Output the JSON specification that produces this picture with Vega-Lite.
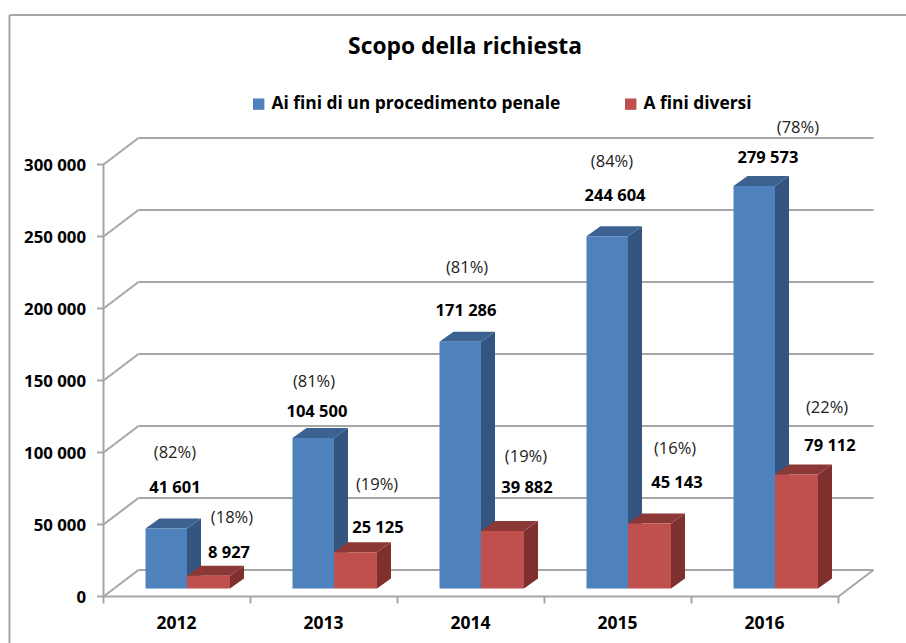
{
"$schema":"https://vega.github.io/schema/vega-lite/v6.json",
"width":906,"height":643,"padding":0,"autosize":{"type":"none"},
"background":"white",
"view":{"stroke":null},
"resolve":{"axis":{"x":"independent","y":"independent"}},
"title":{"text":"Scopo della richiesta","anchor":"middle","frame":"group","offset":-59,"dx":12,"font":"Open Sans","fontSize":22.8,"fontWeight":"bold","color":"#000000"},
"datasets":{
"bars":[
{"year":2012,"series":"Ai fini di un procedimento penale","value":41601,"share":82},
{"year":2013,"series":"Ai fini di un procedimento penale","value":104500,"share":81},
{"year":2014,"series":"Ai fini di un procedimento penale","value":171286,"share":81},
{"year":2015,"series":"Ai fini di un procedimento penale","value":244604,"share":84},
{"year":2016,"series":"Ai fini di un procedimento penale","value":279573,"share":78},
{"year":2012,"series":"A fini diversi","value":8927,"share":18},
{"year":2013,"series":"A fini diversi","value":25125,"share":19},
{"year":2014,"series":"A fini diversi","value":39882,"share":19},
{"year":2015,"series":"A fini diversi","value":45143,"share":16},
{"year":2016,"series":"A fini diversi","value":79112,"share":22}
],
"ticks":[{"v":0},{"v":50000},{"v":100000},{"v":150000},{"v":200000},{"v":250000},{"v":300000}],
"edges":[{"edge":2011.5},{"edge":2012.5},{"edge":2013.5},{"edge":2014.5},{"edge":2015.5},{"edge":2016.5}]
},
"layer":[
{"data":{"values":[{"f":403819}]},
 "mark":{"type":"rule","color":"#a6a6a6","strokeWidth":2},
 "encoding":{"x":{"datum":2010.8605,"type":"quantitative","scale":{"domain":[2010.79592,2016.95918],"range":[0,906],"nice":false,"zero":false},"axis":{"values":[2012,2013,2014,2015,2016],"format":"d","orient":"bottom","offset":-46.5,"domain":false,"ticks":false,"grid":false,"title":null,"labelPadding":18,"labelOffset":-1,"labelFont":"Open Sans","labelFontSize":17.5,"labelFontWeight":"bold","labelColor":"#000000"}},
  "y":{"field":"f","type":"quantitative","scale":{"domain":[-32292,414236],"range":[643,0],"nice":false,"zero":false},"axis":{"values":[0,50000,100000,150000,200000,250000,300000],"labelExpr":"replace(format(datum.value,','),',',' ')","orient":"left","offset":-103.5,"domain":false,"ticks":true,"tickSize":7,"tickColor":"#a6a6a6","tickWidth":2,"grid":false,"title":null,"labelPadding":11,"labelOffset":1,"labelFont":"Open Sans","labelFontSize":16.8,"labelFontWeight":"bold","labelColor":"#000000"}},
  "y2":{"datum":-32292}}},
{"data":{"values":[{"f":403819}]},
 "mark":{"type":"rule","color":"#a6a6a6","strokeWidth":2},
 "encoding":{"x":{"datum":2010.8605,"type":"quantitative","axis":null},"x2":{"datum":2016.95918},"y":{"field":"f","type":"quantitative","axis":null}}},
{"data":{"name":"ticks"},"transform":[{"calculate":"datum.v+18403","as":"back"}],
 "mark":{"type":"rule","color":"#a6a6a6","strokeWidth":2},
 "encoding":{"x":{"datum":2011.5,"type":"quantitative","axis":null},"x2":{"datum":2011.7381},"y":{"field":"v","type":"quantitative","axis":null},"y2":{"field":"back"}}},
{"data":{"name":"ticks"},"transform":[{"calculate":"datum.v+18403","as":"back"}],
 "mark":{"type":"rule","color":"#a6a6a6","strokeWidth":2},
 "encoding":{"x":{"datum":2011.7381,"type":"quantitative","axis":null},"x2":{"datum":2016.7381},"y":{"field":"back","type":"quantitative","axis":null}}},
{"data":{"values":[{"a":0,"b":300000}]},
 "mark":{"type":"rule","color":"#a6a6a6","strokeWidth":2},
 "encoding":{"x":{"datum":2011.5,"type":"quantitative","axis":null},"y":{"field":"a","type":"quantitative","axis":null},"y2":{"field":"b"}}},
{"data":{"values":[{"a":0}]},
 "mark":{"type":"rule","color":"#a6a6a6","strokeWidth":2},
 "encoding":{"x":{"datum":2011.5,"type":"quantitative","axis":null},"x2":{"datum":2016.5},"y":{"field":"a","type":"quantitative","axis":null}}},
{"data":{"values":[{"a":0,"b":18403}]},
 "mark":{"type":"rule","color":"#a6a6a6","strokeWidth":2},
 "encoding":{"x":{"datum":2016.5,"type":"quantitative","axis":null},"x2":{"datum":2016.7381},"y":{"field":"a","type":"quantitative","axis":null},"y2":{"field":"b"}}},
{"data":{"name":"edges"},"transform":[{"calculate":"0","as":"a"},{"calculate":"-4860","as":"b"}],
 "mark":{"type":"rule","color":"#a6a6a6","strokeWidth":2},
 "encoding":{"x":{"field":"edge","type":"quantitative","axis":null},"y":{"field":"a","type":"quantitative","axis":null},"y2":{"field":"b"}}},
{"data":{"name":"bars"},"transform":[{"filter":"datum.series==='Ai fini di un procedimento penale'"},{"calculate":"[0,1]","as":"d"},{"flatten":["d"]},{"calculate":"datum.year+0.068+datum.d*0.0952","as":"sx"},{"calculate":"datum.value+5556+datum.d*6944","as":"st"},{"calculate":"5556+datum.d*6944","as":"sb"}],
 "mark":{"type":"area","orient":"vertical","color":"#34557f"},
 "encoding":{"x":{"field":"sx","type":"quantitative","axis":null},"y":{"field":"st","type":"quantitative","axis":null,"stack":null},"y2":{"field":"sb"},"detail":{"field":"year"}}},
{"data":{"name":"bars"},"transform":[{"filter":"datum.series==='Ai fini di un procedimento penale'"},{"calculate":"[0,1]","as":"d"},{"flatten":["d"]},{"calculate":"datum.year-0.2143+datum.d*0.0952","as":"tl"},{"calculate":"datum.year+0.068+datum.d*0.0952","as":"tr"},{"calculate":"datum.value+5556+datum.d*6944","as":"ty"}],
 "mark":{"type":"area","orient":"horizontal","color":"#3c6291"},
 "encoding":{"y":{"field":"ty","type":"quantitative","axis":null},"x":{"field":"tl","type":"quantitative","axis":null,"stack":null},"x2":{"field":"tr"},"detail":{"field":"year"}}},
{"data":{"name":"bars"},"transform":[{"filter":"datum.series==='A fini diversi'"},{"calculate":"[0,1]","as":"d"},{"flatten":["d"]},{"calculate":"datum.year+0.3605+datum.d*0.0952","as":"sx"},{"calculate":"datum.value+5556+datum.d*6944","as":"st"},{"calculate":"5556+datum.d*6944","as":"sb"}],
 "mark":{"type":"area","orient":"vertical","color":"#7f302e"},
 "encoding":{"x":{"field":"sx","type":"quantitative","axis":null},"y":{"field":"st","type":"quantitative","axis":null,"stack":null},"y2":{"field":"sb"},"detail":{"field":"year"}}},
{"data":{"name":"bars"},"transform":[{"filter":"datum.series==='A fini diversi'"},{"calculate":"[0,1]","as":"d"},{"flatten":["d"]},{"calculate":"datum.year+0.068+datum.d*0.0952","as":"tl"},{"calculate":"datum.year+0.3605+datum.d*0.0952","as":"tr"},{"calculate":"datum.value+5556+datum.d*6944","as":"ty"}],
 "mark":{"type":"area","orient":"horizontal","color":"#8c3836"},
 "encoding":{"y":{"field":"ty","type":"quantitative","axis":null},"x":{"field":"tl","type":"quantitative","axis":null,"stack":null},"x2":{"field":"tr"},"detail":{"field":"year"}}},
{"data":{"name":"bars"},"transform":[{"calculate":"datum.series==='A fini diversi'?datum.year+0.068:datum.year-0.2143","as":"left"},{"calculate":"datum.series==='A fini diversi'?datum.year+0.3605:datum.year+0.068","as":"right"},{"calculate":"datum.value+5556","as":"top"},{"calculate":"5556","as":"base"}],
 "mark":{"type":"rect"},
 "encoding":{"x":{"field":"left","type":"quantitative","axis":null},"x2":{"field":"right"},"y":{"field":"top","type":"quantitative","axis":null},"y2":{"field":"base"},
  "color":{"field":"series","type":"nominal","scale":{"domain":["Ai fini di un procedimento penale","A fini diversi"],"range":["#4f81bd","#c0504d"]},
   "legend":{"title":null,"orient":"none","legendX":250,"legendY":95,"direction":"horizontal","columns":2,"columnPadding":61,"symbolType":"square","symbolSize":130,"symbolStrokeWidth":0,"labelFont":"Open Sans","labelFontSize":17.4,"labelFontWeight":"bold","labelColor":"#000000","labelLimit":400,"labelOffset":4}}}},
{"data":{"name":"bars"},"transform":[
  {"calculate":"replace(format(datum.value,','),',',' ')","as":"label"},
  {"calculate":"datum.year+(datum.series==='A fini diversi'?[0.354,0.367,0.381,0.401,0.442]:[-0.014,-0.048,-0.034,-0.02,0.02])[datum.year-2012]","as":"lx"},
  {"calculate":"datum.value+(datum.series==='A fini diversi'?[21976,23139,36160,34371,26096]:[34441,24319,27672,34215,25635])[datum.year-2012]","as":"ly"}],
 "mark":{"type":"text","font":"Open Sans","fontSize":16.5,"fontWeight":"bold","color":"#000000","align":"center","baseline":"middle","dy":1},
 "encoding":{"x":{"field":"lx","type":"quantitative","axis":null},"y":{"field":"ly","type":"quantitative","axis":null},"text":{"field":"label"}}},
{"data":{"name":"bars"},"transform":[
  {"calculate":"'('+datum.share+'%)'","as":"label"},
  {"calculate":"datum.year+(datum.series==='A fini diversi'?[0.374,0.361,0.374,0.388,0.422]:[-0.014,-0.068,-0.027,-0.041,0.224])[datum.year-2012]","as":"lx"},
  {"calculate":"datum.value+(datum.series==='A fini diversi'?[46281,53000,57687,57982,52485]:[58746,45153,57533,57827,46469])[datum.year-2012]","as":"ly"}],
 "mark":{"type":"text","font":"Open Sans","fontSize":16.5,"color":"#222222","align":"center","baseline":"middle","dy":1},
 "encoding":{"x":{"field":"lx","type":"quantitative","axis":null},"y":{"field":"ly","type":"quantitative","axis":null},"text":{"field":"label"}}}
]
}
